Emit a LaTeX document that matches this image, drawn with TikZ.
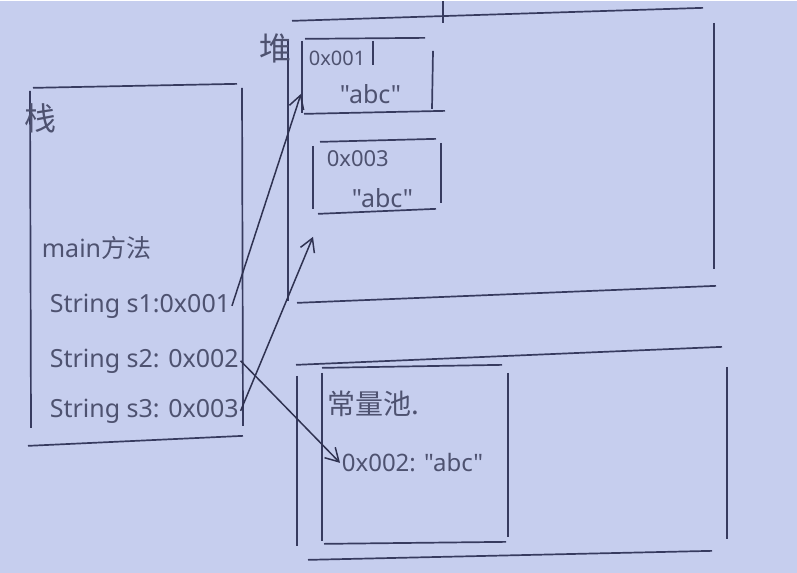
\documentclass[tikz,border=0pt]{standalone}
\usepackage{fontspec}
\newfontfamily\hand{Noto Sans}
\newfontfamily\cjk{Noto Sans CJK SC}
\usetikzlibrary{arrows.meta}
\definecolor{paper}{RGB}{198,206,238}
\definecolor{ink}{RGB}{55,59,95}
\definecolor{pencil}{RGB}{78,82,112}

\begin{document}
\begin{tikzpicture}[x=1pt,y=-1pt,line width=1.7pt,
    ptr/.style={-{Straight Barb[length=13pt,width=15pt]},line width=1.5pt,draw=ink!85!black}]
            \fill[paper] (0,0) rectangle (797,572);
            \begin{scope}[draw=ink]
                \draw (33,87) -- (237,83);
                \draw (30,90) -- (31,427);
                \draw (242,87) -- (243,425);
                \draw (28,445) -- (243,435);
                \draw (292,20) -- (703,7);
                \draw (443,0) -- (443,22);
                \draw (714,22) -- (714,268);
                \draw (288,40) -- (288,300);
                \draw (297,302) -- (716,285);
                \draw (305,38) -- (425,37);
                \draw (302,40) -- (302,112);
                \draw (304,113) -- (445,110);
                \draw (433,50) -- (432,108);
                \draw (373,40) -- (373,64);
                \draw (320,141) -- (436,138);
                \draw (313,145) -- (313,208);
                \draw (318,213) -- (436,208);
                \draw (441,142) -- (441,202);
                \draw (296,364) -- (722,346);
                \draw (297,375) -- (297,545);
                \draw (308,559) -- (712,550);
                \draw (727,366) -- (727,538);
                \draw (322,367) -- (502,364);
                \draw (322,372) -- (322,540);
                \draw (508,372) -- (508,536);
                \draw (324,543) -- (506,541);
            \end{scope}
            \begin{scope}[every node/.style={text=pencil,inner sep=1pt,font=\hand\fontsize{25}{28}\selectfont}]
                \node (stack) at (40,117) {\cjk\fontsize{32}{34}\selectfont 栈};
                \node (heap) at (275,48) {\cjk\fontsize{32}{34}\selectfont 堆};
                \node[anchor=west] (main) at (40,247) {main{\cjk 方法}};
                \node[anchor=west] (s1) at (48,305) {String s1:0x001};
                \node[anchor=west] (s2) at (48,360) {String s2: 0x002};
                \node[anchor=west] (s3) at (48,410) {String s3: 0x003};
                \node[anchor=west,font=\hand\fontsize{20}{22}\selectfont] (a1) at (307,57) {0x001};
                \node[anchor=west,font=\hand\fontsize{25}{26}\selectfont] (v1) at (338,93) {"abc"};
                \node[anchor=west,font=\hand\fontsize{22}{24}\selectfont] (a3) at (325,158) {0x003};
                \node[anchor=west,font=\hand\fontsize{25}{26}\selectfont] (v3) at (350,197) {"abc"};
                \node[anchor=west,font=\cjk\fontsize{28}{30}\selectfont] (pool) at (326,403) {常量池.};
                \node[anchor=west,font=\hand\fontsize{24}{26}\selectfont] (c2) at (340,462) {0x002: "abc"};
            \end{scope}
            \coordinate (h1) at (301,93);
            \coordinate (h3) at (313,236);
            \draw (s1.east) edge [ptr] (h1);
            \draw (s3.east) edge [ptr] (h3);
            \draw (s2.east) edge [ptr] (c2.west);
        \end{tikzpicture}
\end{document}
